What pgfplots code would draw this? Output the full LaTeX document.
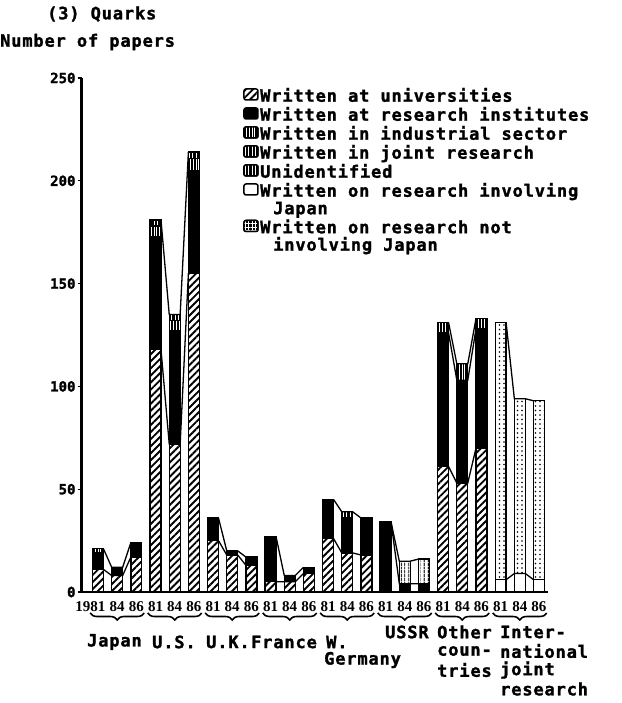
\documentclass[border=0pt]{standalone}
\usepackage{fontspec}
\usepackage{pgfplots}
\pgfplotsset{compat=1.18}
\usepackage{pgfplotstable}
\usetikzlibrary{patterns,patterns.meta,decorations.pathreplacing}
\setmainfont{DejaVu Sans Mono}
\newfontfamily\dm{DejaVu Sans Mono}[LetterSpace=5,FakeBold=1.5]
\newfontfamily\dmy{DejaVu Sans Mono}[FakeBold=1.5]
\newfontfamily\ser{Liberation Serif}
\newcommand{\lab}{\dm\bfseries\fontsize{17}{19}\selectfont}
\newcommand{\yt}{\dmy\bfseries\fontsize{14}{16}\selectfont}
\newcommand{\xt}{\ser\bfseries\fontsize{15}{17}\selectfont}

\pgfplotsset{
 univ/.style={draw=black, line width=1.3pt, pattern={Lines[angle=45,distance=5pt,line width=1.9pt]}, pattern color=black},
 inst/.style={draw=black, line width=1.3pt, fill=black},
 indu/.style={draw=black, line width=1.3pt, fill=black, postaction={pattern={Lines[angle=90,distance=2.8pt,line width=0.9pt]}, pattern color=white}},
 jnt/.style={draw=black, line width=1.3pt, fill=white, postaction={pattern={Lines[angle=90,distance=4pt,line width=1pt]}, pattern color=black}},
 jntleg/.style={draw=black, line width=1.3pt, fill=black, postaction={pattern={Lines[angle=90,distance=3.5pt,line width=1pt]}, pattern color=white}},
 unid/.style={draw=black, line width=1.3pt, fill=black, postaction={pattern={Lines[angle=90,distance=3.5pt,line width=0.8pt]}, pattern color=white}},
 invj/.style={draw=black, line width=1.3pt, fill=white},
 notj/.style={draw=black, line width=1.3pt, fill=white, postaction={pattern={Dots[distance=4.5pt,radius=0.9pt]}, pattern color=black}},
 notjleg/.style={draw=black, line width=1.3pt, fill=black, postaction={pattern={Hatch[distance=3.5pt,line width=0.8pt]}, pattern color=white}},
 conn/.style={black, line width=1.3pt, forget plot, mark=none},
}

\pgfplotstableread{
x univ inst indu jnt unid invj notj
0 11 8 2 0 0 0 0
1 8 4 0 0 0 0 0
2 17 7 0 0 0 0 0
3 118 55 5 0 3 0 0
4 72 55 5 0 3 0 0
5 155 50 6 0 3 0 0
6 25 11 0 0 0 0 0
7 18 2 0 0 0 0 0
8 13 4 0 0 0 0 0
9 5 22 0 0 0 0 0
10 5 3 0 0 0 0 0
11 9 3 0 0 0 0 0
12 26 19 0 0 0 0 0
13 19 17 0 0 3 0 0
14 18 18 0 0 0 0 0
15 0 34 0 0 0 0 0
16 0 4 0 11 0 0 0
17 0 4 0 12 0 0 0
18 61 65 5 0 0 0 0
19 53 50 8 0 0 0 0
20 70 58 5 0 0 0 0
21 0 0 0 0 0 6 125
22 0 0 0 0 0 9 85
23 0 0 0 0 0 6 87
}\datatable

\begin{document}
\begin{tikzpicture}
\useasboundingbox (0pt,0pt) rectangle (621pt,-703pt);

\begin{axis}[
 at={(81.7pt,-592pt)}, anchor=south west,
 scale only axis, width=466.3pt, height=514pt,
 xmin=-0.85, xmax=23.47, ymin=0, ymax=250,
 ybar stacked, bar width=0.57,
 axis x line*=bottom, axis y line*=left,
 axis line style={line width=2.5pt},
 xtick={0,...,23},
 xticklabels={\llap{19}81,84,86,81,84,86,81,84,86,81,84,86,81,84,86,81,84,86,81,84,86,81,84,86},
 x tick label style={font=\xt, inner sep=0pt, yshift=-5pt},
 x tick style={draw=none},
 ytick={0,50,100,150,200,250},
 yticklabels={0,50,100,150,200,250},
 y tick label style={font=\yt, inner xsep=2pt},
 y tick style={line width=1.2pt, black},
 tick align=outside, major tick length=4pt,
 clip=false,
]
\addplot[univ] table[x=x,y=univ]{\datatable};
\addplot[inst] table[x=x,y=inst]{\datatable};
\addplot[indu] table[x=x,y=indu]{\datatable};
\addplot[jnt] table[x=x,y=jnt]{\datatable};
\addplot[unid] table[x=x,y=unid]{\datatable};
\addplot[invj] table[x=x,y=invj]{\datatable};
\addplot[notj] table[x=x,y=notj]{\datatable};
\end{axis}

\begin{axis}[
 at={(81.7pt,-592pt)}, anchor=south west,
 scale only axis, width=466.3pt, height=514pt,
 xmin=-0.85, xmax=23.47, ymin=0, ymax=250,
 hide axis, clip=false,
 legend style={at={(0.346,0.9805)}, anchor=north west, draw=none, fill=none,
   inner sep=0pt, row sep=0pt, column sep=0pt,
   nodes={inner ysep=0pt, inner xsep=1.5pt, text height=12pt, text depth=5.5pt, font=\lab}},
 legend cell align=left,
 legend image code/.code={\draw[#1, line width=1.5pt, rounded corners=2pt] (0pt,-1.5pt) rectangle (14pt,9.5pt);},
]
\addlegendimage{univ}\addlegendentry{Written at universities}
\addlegendimage{inst}\addlegendentry{Written at research institutes}
\addlegendimage{indu}\addlegendentry{Written in industrial sector}
\addlegendimage{jntleg}\addlegendentry{Written in joint research}
\addlegendimage{unid}\addlegendentry{Unidentified}
\addlegendimage{invj}\addlegendentry{Written on research involving}
\addlegendimage{empty legend}\addlegendentry{\hspace{13pt}Japan}
\addlegendimage{notjleg}\addlegendentry{Written on research not}
\addlegendimage{empty legend}\addlegendentry{\hspace{13pt}involving Japan}
% connecting lines
\addplot[conn] coordinates {(0.285,11)(0.715,8)(1.285,8)(1.715,17)};
\addplot[conn] coordinates {(0.285,21)(0.715,12)(1.285,12)(1.715,24)};
\addplot[conn] coordinates {(3.285,118)(3.715,72)(4.285,72)(4.715,155)};
\addplot[conn] coordinates {(3.285,181)(3.715,135)(4.285,135)(4.715,214)};
\addplot[conn] coordinates {(6.285,25)(6.715,18)(7.285,18)(7.715,13)};
\addplot[conn] coordinates {(6.285,36)(6.715,20)(7.285,20)(7.715,17)};
\addplot[conn] coordinates {(9.285,5)(9.715,5)(10.285,5)(10.715,9)};
\addplot[conn] coordinates {(9.285,27)(9.715,8)(10.285,8)(10.715,12)};
\addplot[conn] coordinates {(12.285,26)(12.715,19)(13.285,19)(13.715,18)};
\addplot[conn] coordinates {(12.285,45)(12.715,39)(13.285,39)(13.715,36)};
\addplot[conn] coordinates {(15.285,34)(15.715,4)(16.285,4)(16.715,4)};
\addplot[conn] coordinates {(15.285,34)(15.715,15)(16.285,15)(16.715,16)};
\addplot[conn] coordinates {(18.285,61)(18.715,53)(19.285,53)(19.715,70)};
\addplot[conn] coordinates {(18.285,126)(18.715,103)(19.285,103)(19.715,128)};
\addplot[conn] coordinates {(18.285,131)(18.715,111)(19.285,111)(19.715,133)};
\addplot[conn] coordinates {(21.285,6)(21.715,9)(22.285,9)(22.715,6)};
\addplot[conn] coordinates {(21.285,131)(21.715,94)(22.285,94)(22.715,93)};
\end{axis}

% titles
\node[anchor=west, font=\lab, inner sep=0pt] at (47pt,-14pt) {(3) Quarks};
\node[anchor=west, font=\lab, inner sep=0pt] at (0pt,-42pt) {Number of papers};

% braces
\foreach \c in {117.2,174.7,232.2,289.7,347.2,404.7,462.2,519.7}{
  \draw[decorate, decoration={brace, mirror, amplitude=7pt}, line width=1.6pt]
    ({\c pt-27pt},-613pt) -- ({\c pt+27pt},-613pt);
}

% group labels
\begin{scope}[every node/.style={anchor=west, font=\lab, inner sep=0pt}]
\node at (87pt,-642pt) {Japan};
\node at (152pt,-642pt) {U.S.};
\node at (206pt,-642pt) {U.K.};
\node at (251pt,-642pt) {France};
\node at (326pt,-642pt) {W.};
\node at (324pt,-660pt) {Germany};
\node at (385pt,-632pt) {USSR};
\node at (437pt,-632pt) {Other};
\node at (437pt,-651pt) {coun-};
\node at (437pt,-670pt) {tries};
\node at (500pt,-632pt) {Inter-};
\node at (500pt,-651pt) {national};
\node at (500pt,-670pt) {joint};
\node at (500pt,-689pt) {research};
\end{scope}
\end{tikzpicture}
\end{document}
